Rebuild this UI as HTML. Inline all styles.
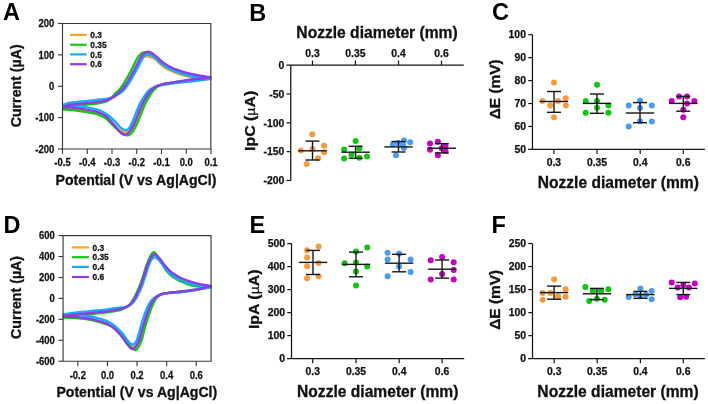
<!DOCTYPE html>
<html><head><meta charset="utf-8"><style>
html,body{margin:0;padding:0;background:#fff;}
body{width:708px;height:404px;overflow:hidden;}
svg{display:block;font-family:"Liberation Sans", sans-serif;will-change:transform;}
.t{stroke:#111;stroke-width:0.25px;}
.h{stroke:#111;stroke-width:0.3px;}
</style></head><body>
<svg width="708" height="404" viewBox="0 0 708 404">
<rect width="708" height="404" fill="#fff"/>
<text x="3.00" y="19.80" font-size="23.5" font-weight="bold" text-anchor="start" fill="#000" >A</text>
<text x="249.20" y="20.80" font-size="23.5" font-weight="bold" text-anchor="start" fill="#000" >B</text>
<text x="492.10" y="20.20" font-size="23.5" font-weight="bold" text-anchor="start" fill="#000" >C</text>
<text x="3.60" y="232.80" font-size="23.5" font-weight="bold" text-anchor="start" fill="#000" >D</text>
<text x="249.50" y="232.90" font-size="23.5" font-weight="bold" text-anchor="start" fill="#000" >E</text>
<text x="491.60" y="232.90" font-size="23.5" font-weight="bold" text-anchor="start" fill="#000" >F</text>
<clipPath id="clip6223"><rect x="62.1" y="23.5" width="149.75" height="125.5"/></clipPath>
<g clip-path="url(#clip6223)" fill="none" stroke-width="2.4" stroke-linejoin="round" stroke-linecap="round">
<path d="M59.00,108.70 C59.58,108.52 61.33,107.98 62.50,107.60 C63.67,107.22 64.75,106.75 66.00,106.40 C67.25,106.05 68.50,105.77 70.00,105.50 C71.50,105.23 72.50,105.08 75.00,104.80 C77.50,104.52 81.67,104.12 85.00,103.80 C88.33,103.48 92.50,103.18 95.00,102.90 C97.50,102.62 98.17,102.43 100.00,102.10 C101.83,101.77 104.28,101.41 106.00,100.93 C107.72,100.44 108.89,99.92 110.33,99.19 C111.78,98.45 113.22,97.52 114.67,96.54 C116.11,95.56 117.62,94.42 119.00,93.30 C120.38,92.18 121.67,91.18 122.94,89.80 C124.20,88.42 125.42,86.63 126.57,85.00 C127.71,83.37 128.79,81.67 129.80,80.00 C130.81,78.33 131.68,76.67 132.62,75.00 C133.56,73.33 134.56,71.67 135.45,70.00 C136.34,68.33 137.15,66.67 137.97,65.00 C138.79,63.33 139.58,61.28 140.39,60.00 C141.21,58.72 141.98,57.94 142.85,57.30 C143.72,56.66 144.53,56.27 145.63,56.19 C146.73,56.10 148.32,56.61 149.44,56.80 C150.56,56.99 151.44,56.93 152.35,57.30 C153.26,57.67 154.05,58.33 154.90,59.00 C155.75,59.67 156.60,60.49 157.45,61.30 C158.30,62.11 159.07,63.02 160.00,63.85 C160.93,64.68 162.00,65.54 163.00,66.28 C164.00,67.02 164.83,67.62 166.00,68.31 C167.17,69.00 168.50,69.70 170.00,70.41 C171.50,71.13 173.33,71.93 175.00,72.60 C176.67,73.26 177.50,73.65 180.00,74.38 C182.50,75.10 186.67,76.20 190.00,76.94 C193.33,77.68 196.58,78.43 200.00,78.80 C203.42,79.17 210.50,79.12 210.50,79.15 C210.50,79.19 203.42,78.86 200.00,79.03 C196.58,79.20 193.33,79.74 190.00,80.16 C186.67,80.59 183.33,81.10 180.00,81.60 C176.67,82.09 172.57,82.73 170.00,83.13 C167.43,83.53 166.17,83.69 164.60,84.00 C163.03,84.31 162.05,84.50 160.60,84.97 C159.15,85.45 157.49,85.85 155.91,86.84 C154.34,87.83 152.75,89.07 151.16,90.91 C149.58,92.75 147.87,95.54 146.43,97.88 C145.00,100.22 143.83,102.16 142.56,104.95 C141.28,107.74 139.92,111.73 138.78,114.63 C137.63,117.52 136.79,119.92 135.68,122.30 C134.56,124.69 133.27,127.35 132.09,128.92 C130.92,130.50 129.89,131.21 128.62,131.78 C127.36,132.35 125.97,132.58 124.50,132.34 C123.03,132.10 121.40,131.45 119.80,130.36 C118.20,129.27 116.55,127.40 114.90,125.81 C113.25,124.22 111.38,122.25 109.90,120.81 C108.42,119.38 107.65,118.34 106.00,117.20 C104.35,116.06 101.83,114.82 100.00,114.00 C98.17,113.18 97.50,112.90 95.00,112.30 C92.50,111.70 88.33,110.95 85.00,110.40 C81.67,109.85 77.50,109.33 75.00,109.00 C72.50,108.67 71.50,108.53 70.00,108.40 C68.50,108.27 67.25,108.23 66.00,108.20 C64.75,108.17 63.67,108.18 62.50,108.20 C61.33,108.22 59.58,108.28 59.00,108.30" stroke="#FFA41C"/>
<path d="M59.00,109.20 C59.58,109.03 61.33,108.54 62.50,108.20 C63.67,107.86 64.75,107.44 66.00,107.14 C67.25,106.84 68.50,106.64 70.00,106.40 C71.50,106.16 72.50,105.98 75.00,105.70 C77.50,105.42 81.67,105.02 85.00,104.70 C88.33,104.38 92.50,104.10 95.00,103.80 C97.50,103.50 98.22,103.28 100.00,102.90 C101.78,102.52 104.18,102.06 105.70,101.50 C107.22,100.94 107.99,100.35 109.10,99.55 C110.21,98.75 111.30,97.74 112.37,96.70 C113.43,95.66 114.34,94.45 115.50,93.30 C116.66,92.15 118.09,91.18 119.31,89.80 C120.53,88.42 121.72,86.63 122.83,85.00 C123.94,83.37 124.98,81.67 125.96,80.00 C126.93,78.33 127.78,76.67 128.69,75.00 C129.61,73.33 130.57,71.67 131.43,70.00 C132.29,68.33 133.07,66.67 133.87,65.00 C134.67,63.33 135.45,61.44 136.22,60.00 C136.99,58.56 137.70,57.43 138.50,56.38 C139.30,55.33 140.03,54.41 141.03,53.72 C142.03,53.02 143.21,52.29 144.50,52.20 C145.79,52.11 147.33,52.63 148.75,53.15 C150.17,53.67 151.71,54.49 153.00,55.30 C154.29,56.11 155.33,57.11 156.50,58.03 C157.67,58.95 158.92,59.92 160.00,60.81 C161.08,61.71 162.00,62.60 163.00,63.40 C164.00,64.20 164.83,64.84 166.00,65.59 C167.17,66.34 168.50,67.14 170.00,67.90 C171.50,68.66 173.33,69.45 175.00,70.13 C176.67,70.80 177.50,71.21 180.00,71.95 C182.50,72.70 186.67,73.84 190.00,74.61 C193.33,75.38 196.58,76.01 200.00,76.56 C203.42,77.11 210.50,77.50 210.50,77.91 C210.50,78.31 203.42,78.63 200.00,78.99 C196.58,79.36 193.33,79.68 190.00,80.09 C186.67,80.51 183.33,81.01 180.00,81.50 C176.67,81.98 172.56,82.61 170.00,83.00 C167.44,83.39 166.12,83.54 164.66,83.85 C163.20,84.15 162.48,84.33 161.23,84.81 C159.97,85.28 158.49,85.70 157.13,86.70 C155.77,87.70 154.52,88.95 153.07,90.80 C151.62,92.65 149.85,95.45 148.43,97.80 C147.02,100.15 145.84,102.10 144.56,104.90 C143.29,107.70 141.93,111.70 140.78,114.60 C139.64,117.50 138.82,119.78 137.69,122.30 C136.56,124.82 135.24,127.71 134.01,129.70 C132.77,131.69 131.59,133.30 130.29,134.22 C128.98,135.14 127.68,135.45 126.18,135.23 C124.69,135.01 123.18,134.20 121.30,132.88 C119.42,131.56 116.80,129.08 114.90,127.31 C113.00,125.54 111.38,123.71 109.90,122.26 C108.42,120.81 107.65,119.75 106.00,118.61 C104.35,117.47 101.83,116.22 100.00,115.40 C98.17,114.58 97.50,114.30 95.00,113.70 C92.50,113.10 88.33,112.35 85.00,111.80 C81.67,111.25 77.50,110.73 75.00,110.40 C72.50,110.07 71.50,109.95 70.00,109.80 C68.50,109.65 67.25,109.58 66.00,109.50 C64.75,109.42 63.67,109.36 62.50,109.33 C61.33,109.29 59.58,109.30 59.00,109.30" stroke="#17C417"/>
<path d="M59.00,106.40 C59.58,106.20 61.33,105.61 62.50,105.17 C63.67,104.74 64.75,104.20 66.00,103.80 C67.25,103.40 68.50,103.08 70.00,102.80 C71.50,102.52 72.50,102.38 75.00,102.10 C77.50,101.82 81.67,101.42 85.00,101.10 C88.33,100.78 92.50,100.46 95.00,100.20 C97.50,99.94 98.17,99.77 100.00,99.55 C101.83,99.33 104.24,99.18 106.00,98.90 C107.76,98.62 109.01,98.37 110.53,97.87 C112.06,97.37 113.59,96.68 115.14,95.90 C116.69,95.12 118.36,94.22 119.83,93.20 C121.30,92.18 122.66,91.17 123.96,89.80 C125.27,88.43 126.48,86.63 127.64,85.00 C128.80,83.37 129.89,81.67 130.91,80.00 C131.93,78.33 132.82,76.67 133.77,75.00 C134.73,73.33 135.73,71.67 136.63,70.00 C137.54,68.33 138.35,66.67 139.19,65.00 C140.02,63.33 140.82,61.45 141.64,60.00 C142.46,58.55 143.32,57.18 144.09,56.30 C144.86,55.42 145.42,54.94 146.25,54.73 C147.08,54.51 148.19,54.86 149.07,55.00 C149.96,55.14 150.66,55.19 151.54,55.59 C152.42,55.99 153.42,56.68 154.36,57.38 C155.30,58.08 156.24,58.94 157.18,59.77 C158.12,60.60 159.03,61.54 160.00,62.39 C160.97,63.23 162.00,64.10 163.00,64.86 C164.00,65.62 164.83,66.23 166.00,66.94 C167.17,67.65 168.50,68.38 170.00,69.11 C171.50,69.85 173.33,70.69 175.00,71.38 C176.67,72.07 177.50,72.48 180.00,73.24 C182.50,74.01 186.67,75.18 190.00,75.97 C193.33,76.76 196.58,77.52 200.00,78.00 C203.42,78.48 210.50,78.46 210.50,78.83 C210.50,79.21 203.42,79.80 200.00,80.26 C196.58,80.72 193.33,81.22 190.00,81.60 C186.67,81.98 183.33,82.21 180.00,82.57 C176.67,82.93 172.58,83.44 170.00,83.77 C167.42,84.09 166.21,84.25 164.54,84.52 C162.87,84.80 161.68,85.00 159.97,85.42 C158.26,85.84 156.21,86.14 154.27,87.04 C152.33,87.95 150.16,89.05 148.33,90.84 C146.50,92.63 144.81,95.46 143.30,97.80 C141.79,100.14 140.62,102.10 139.30,104.90 C137.98,107.70 136.58,111.70 135.40,114.60 C134.22,117.50 133.24,120.04 132.20,122.30 C131.16,124.56 130.08,126.89 129.18,128.15 C128.27,129.41 127.68,129.63 126.75,129.87 C125.82,130.11 124.76,130.09 123.60,129.60 C122.44,129.10 121.25,128.27 119.80,126.90 C118.35,125.53 116.55,123.05 114.90,121.36 C113.25,119.68 111.38,118.06 109.90,116.78 C108.42,115.50 107.65,114.70 106.00,113.67 C104.35,112.65 101.83,111.41 100.00,110.63 C98.17,109.84 97.50,109.54 95.00,108.96 C92.50,108.37 88.33,107.65 85.00,107.11 C81.67,106.58 77.50,106.09 75.00,105.77 C72.50,105.45 71.50,105.26 70.00,105.20 C68.50,105.14 67.25,105.31 66.00,105.40 C64.75,105.49 63.67,105.63 62.50,105.75 C61.33,105.87 59.58,106.04 59.00,106.10" stroke="#1CA9FA"/>
<path d="M59.00,108.20 C59.58,108.02 61.33,107.48 62.50,107.10 C63.67,106.72 64.75,106.25 66.00,105.90 C67.25,105.55 68.50,105.27 70.00,105.00 C71.50,104.73 72.50,104.58 75.00,104.30 C77.50,104.02 81.67,103.62 85.00,103.30 C88.33,102.98 92.50,102.68 95.00,102.40 C97.50,102.12 98.17,101.92 100.00,101.60 C101.83,101.28 104.33,100.95 106.00,100.50 C107.67,100.05 108.67,99.58 110.00,98.90 C111.33,98.22 112.67,97.33 114.00,96.40 C115.33,95.47 116.68,94.40 118.00,93.30 C119.32,92.20 120.65,91.18 121.90,89.80 C123.15,88.42 124.37,86.63 125.50,85.00 C126.63,83.37 127.70,81.67 128.70,80.00 C129.70,78.33 130.57,76.67 131.50,75.00 C132.43,73.33 133.42,71.67 134.30,70.00 C135.18,68.33 135.98,66.67 136.80,65.00 C137.62,63.33 138.40,61.45 139.20,60.00 C140.00,58.55 140.75,57.38 141.60,56.30 C142.45,55.22 143.23,54.25 144.30,53.50 C145.37,52.75 146.88,51.95 148.00,51.80 C149.12,51.65 150.00,52.13 151.00,52.60 C152.00,53.07 153.00,53.83 154.00,54.60 C155.00,55.37 156.00,56.32 157.00,57.20 C158.00,58.08 159.00,59.03 160.00,59.90 C161.00,60.77 162.00,61.63 163.00,62.40 C164.00,63.17 164.83,63.78 166.00,64.50 C167.17,65.22 168.50,65.95 170.00,66.70 C171.50,67.45 173.33,68.30 175.00,69.00 C176.67,69.70 177.50,70.12 180.00,70.90 C182.50,71.68 186.67,72.88 190.00,73.70 C193.33,74.52 196.58,75.20 200.00,75.80 C203.42,76.40 210.50,76.83 210.50,77.30 C210.50,77.77 203.42,78.18 200.00,78.60 C196.58,79.02 193.33,79.35 190.00,79.80 C186.67,80.25 183.33,80.78 180.00,81.30 C176.67,81.82 172.57,82.48 170.00,82.90 C167.43,83.32 166.17,83.48 164.60,83.80 C163.03,84.12 162.08,84.32 160.60,84.80 C159.12,85.28 157.35,85.70 155.70,86.70 C154.05,87.70 152.35,88.95 150.70,90.80 C149.05,92.65 147.28,95.45 145.80,97.80 C144.32,100.15 143.12,102.10 141.80,104.90 C140.48,107.70 139.08,111.70 137.90,114.60 C136.72,117.50 135.87,119.78 134.70,122.30 C133.53,124.82 132.15,127.77 130.90,129.70 C129.65,131.63 128.42,133.10 127.20,133.90 C125.98,134.70 124.83,134.85 123.60,134.50 C122.37,134.15 121.25,133.25 119.80,131.80 C118.35,130.35 116.55,127.72 114.90,125.80 C113.25,123.88 111.38,121.88 109.90,120.30 C108.42,118.72 107.65,117.52 106.00,116.30 C104.35,115.08 101.83,113.83 100.00,113.00 C98.17,112.17 97.50,111.90 95.00,111.30 C92.50,110.70 88.33,109.95 85.00,109.40 C81.67,108.85 77.50,108.33 75.00,108.00 C72.50,107.67 71.50,107.53 70.00,107.40 C68.50,107.27 67.25,107.23 66.00,107.20 C64.75,107.17 63.67,107.18 62.50,107.20 C61.33,107.22 59.58,107.28 59.00,107.30" stroke="#8B3DE8"/>
</g>
<path d="M62.5,22.925 V149.575 M61.925,149.0 H211.42499999999998 M210.85,149.575 V22.925 M211.42499999999998,23.5 H61.925" fill="none" stroke="#383838" stroke-width="1.15"/>
<line x1="57.90" y1="23.50" x2="62.50" y2="23.50" stroke="#383838" stroke-width="1.1" />
<text class="t" transform="translate(54.30,27.20) scale(0.92,1)" font-size="10.3" font-weight="bold" text-anchor="end" fill="#111">200</text>
<line x1="57.90" y1="54.88" x2="62.50" y2="54.88" stroke="#383838" stroke-width="1.1" />
<text class="t" transform="translate(54.30,58.58) scale(0.92,1)" font-size="10.3" font-weight="bold" text-anchor="end" fill="#111">100</text>
<line x1="57.90" y1="86.25" x2="62.50" y2="86.25" stroke="#383838" stroke-width="1.1" />
<text class="t" transform="translate(54.30,89.95) scale(0.92,1)" font-size="10.3" font-weight="bold" text-anchor="end" fill="#111">0</text>
<line x1="57.90" y1="117.62" x2="62.50" y2="117.62" stroke="#383838" stroke-width="1.1" />
<text class="t" transform="translate(54.30,121.32) scale(0.92,1)" font-size="10.3" font-weight="bold" text-anchor="end" fill="#111">-100</text>
<line x1="57.90" y1="149.00" x2="62.50" y2="149.00" stroke="#383838" stroke-width="1.1" />
<text class="t" transform="translate(54.30,152.70) scale(0.92,1)" font-size="10.3" font-weight="bold" text-anchor="end" fill="#111">-200</text>
<line x1="62.50" y1="149.00" x2="62.50" y2="154.00" stroke="#383838" stroke-width="1.1" />
<text class="t" transform="translate(62.50,166.30) scale(0.92,1)" font-size="10.3" font-weight="bold" text-anchor="middle" fill="#111">-0.5</text>
<line x1="87.25" y1="149.00" x2="87.25" y2="154.00" stroke="#383838" stroke-width="1.1" />
<text class="t" transform="translate(87.25,166.30) scale(0.92,1)" font-size="10.3" font-weight="bold" text-anchor="middle" fill="#111">-0.4</text>
<line x1="112.00" y1="149.00" x2="112.00" y2="154.00" stroke="#383838" stroke-width="1.1" />
<text class="t" transform="translate(112.00,166.30) scale(0.92,1)" font-size="10.3" font-weight="bold" text-anchor="middle" fill="#111">-0.3</text>
<line x1="136.75" y1="149.00" x2="136.75" y2="154.00" stroke="#383838" stroke-width="1.1" />
<text class="t" transform="translate(136.75,166.30) scale(0.92,1)" font-size="10.3" font-weight="bold" text-anchor="middle" fill="#111">-0.2</text>
<line x1="161.50" y1="149.00" x2="161.50" y2="154.00" stroke="#383838" stroke-width="1.1" />
<text class="t" transform="translate(161.50,166.30) scale(0.92,1)" font-size="10.3" font-weight="bold" text-anchor="middle" fill="#111">-0.1</text>
<line x1="186.25" y1="149.00" x2="186.25" y2="154.00" stroke="#383838" stroke-width="1.1" />
<text class="t" transform="translate(186.25,166.30) scale(0.92,1)" font-size="10.3" font-weight="bold" text-anchor="middle" fill="#111">0.0</text>
<line x1="211.00" y1="149.00" x2="211.00" y2="154.00" stroke="#383838" stroke-width="1.1" />
<text class="t" transform="translate(211.00,166.30) scale(0.92,1)" font-size="10.3" font-weight="bold" text-anchor="middle" fill="#111">0.1</text>
<line x1="70.10" y1="34.90" x2="86.70" y2="34.90" stroke="#FFA41C" stroke-width="2.2" />
<text class="t" transform="translate(90.30,38.00) scale(0.95,1)" font-size="8.8" font-weight="bold" text-anchor="start" fill="#111">0.3</text>
<line x1="70.10" y1="44.70" x2="86.70" y2="44.70" stroke="#17C417" stroke-width="2.2" />
<text class="t" transform="translate(90.30,47.80) scale(0.95,1)" font-size="8.8" font-weight="bold" text-anchor="start" fill="#111">0.35</text>
<line x1="70.10" y1="54.40" x2="86.70" y2="54.40" stroke="#1CA9FA" stroke-width="2.2" />
<text class="t" transform="translate(90.30,57.50) scale(0.95,1)" font-size="8.8" font-weight="bold" text-anchor="start" fill="#111">0.5</text>
<line x1="70.10" y1="64.20" x2="86.70" y2="64.20" stroke="#8B3DE8" stroke-width="2.2" />
<text class="t" transform="translate(90.30,67.30) scale(0.95,1)" font-size="8.8" font-weight="bold" text-anchor="start" fill="#111">0.6</text>
<text class="h" x="136.00" y="184.70" font-size="14.1" font-weight="bold" text-anchor="middle" fill="#111" >Potential (V vs Ag|AgCl)</text>
<text class="h" transform="translate(21.3,85.8) rotate(-90)" font-size="14.2" font-weight="bold" text-anchor="middle" fill="#111">Current (µA)</text>
<clipPath id="clip63235"><rect x="62.65" y="235.6" width="149.4" height="125.6"/></clipPath>
<g clip-path="url(#clip63235)" fill="none" stroke-width="2.4" stroke-linejoin="round" stroke-linecap="round">
<path d="M60.00,317.50 C60.33,317.43 60.22,317.40 62.00,317.10 C63.78,316.80 67.82,316.12 70.70,315.70 C73.58,315.28 76.42,314.92 79.30,314.60 C82.18,314.28 85.10,314.08 88.00,313.80 C90.90,313.52 93.82,313.18 96.70,312.90 C99.58,312.62 103.08,312.35 105.30,312.10 C107.52,311.85 108.55,311.63 110.00,311.40 C111.45,311.17 112.18,311.04 114.00,310.70 C115.82,310.36 118.91,309.89 120.90,309.34 C122.89,308.80 124.25,308.36 125.95,307.43 C127.64,306.51 129.53,305.32 131.09,303.80 C132.65,302.28 133.99,300.45 135.29,298.30 C136.59,296.15 137.81,293.28 138.90,290.90 C139.99,288.52 140.87,286.48 141.80,284.00 C142.73,281.52 143.50,279.08 144.50,276.00 C145.50,272.92 146.71,268.38 147.80,265.50 C148.89,262.62 149.97,260.28 151.06,258.69 C152.15,257.11 153.41,256.26 154.34,256.01 C155.28,255.76 155.76,256.38 156.69,257.19 C157.61,258.00 158.53,259.15 159.90,260.87 C161.27,262.60 163.25,265.54 164.90,267.54 C166.55,269.54 168.15,271.35 169.80,272.88 C171.45,274.41 173.15,275.59 174.80,276.72 C176.45,277.85 177.72,278.69 179.70,279.66 C181.68,280.62 184.60,281.78 186.70,282.50 C188.80,283.21 190.45,283.52 192.30,283.95 C194.15,284.38 195.95,284.75 197.80,285.05 C199.65,285.36 201.20,285.53 203.40,285.79 C205.60,286.05 211.00,286.16 211.00,286.60 C211.00,287.04 205.60,287.96 203.40,288.44 C201.20,288.92 199.65,289.17 197.80,289.49 C195.95,289.81 194.15,290.08 192.30,290.35 C190.45,290.61 188.57,290.87 186.70,291.10 C184.83,291.34 182.95,291.55 181.10,291.75 C179.25,291.96 177.42,292.16 175.60,292.31 C173.78,292.46 172.43,292.38 170.20,292.67 C167.97,292.95 164.35,293.37 162.20,294.00 C160.05,294.63 158.71,295.45 157.30,296.46 C155.89,297.46 154.82,298.44 153.71,300.03 C152.61,301.62 151.73,303.57 150.68,306.00 C149.62,308.44 148.52,311.28 147.36,314.63 C146.21,317.99 144.93,322.27 143.77,326.15 C142.61,330.03 141.51,334.91 140.41,337.92 C139.31,340.93 138.29,342.74 137.16,344.20 C136.02,345.66 134.73,346.48 133.60,346.70 C132.47,346.92 131.54,346.34 130.38,345.50 C129.21,344.66 127.86,343.12 126.61,341.65 C125.37,340.19 124.09,338.16 122.90,336.71 C121.71,335.26 120.58,334.07 119.50,332.97 C118.42,331.88 117.48,331.06 116.40,330.14 C115.32,329.22 114.07,328.19 113.00,327.45 C111.93,326.71 111.28,326.36 110.00,325.70 C108.72,325.04 107.52,324.30 105.30,323.50 C103.08,322.70 99.58,321.65 96.70,320.90 C93.82,320.15 90.90,319.50 88.00,319.00 C85.10,318.50 82.18,318.18 79.30,317.90 C76.42,317.62 73.58,317.43 70.70,317.30 C67.82,317.17 63.78,317.13 62.00,317.10 C60.22,317.07 60.33,317.10 60.00,317.10" stroke="#FFA41C"/>
<path d="M60.00,318.00 C60.33,317.93 60.22,317.90 62.00,317.60 C63.78,317.30 67.82,316.62 70.70,316.20 C73.58,315.78 76.42,315.42 79.30,315.10 C82.18,314.78 85.10,314.58 88.00,314.30 C90.90,314.02 93.82,313.68 96.70,313.40 C99.58,313.12 103.08,312.85 105.30,312.60 C107.52,312.35 108.55,312.13 110.00,311.90 C111.45,311.67 112.18,311.55 114.00,311.20 C115.82,310.85 118.93,310.39 120.90,309.79 C122.87,309.18 124.26,308.56 125.80,307.56 C127.34,306.56 128.80,305.34 130.15,303.80 C131.50,302.26 132.67,300.45 133.90,298.30 C135.13,296.15 136.42,293.28 137.50,290.90 C138.58,288.52 139.47,286.48 140.40,284.00 C141.33,281.52 142.10,279.08 143.10,276.00 C144.10,272.92 145.26,268.66 146.40,265.50 C147.54,262.34 148.70,259.25 149.92,257.05 C151.13,254.84 152.63,252.65 153.71,252.25 C154.78,251.86 155.34,253.41 156.37,254.65 C157.40,255.89 158.47,257.40 159.89,259.71 C161.31,262.02 163.25,266.09 164.90,268.52 C166.55,270.95 168.15,272.70 169.80,274.29 C171.45,275.88 173.15,276.96 174.80,278.07 C176.45,279.18 177.72,279.99 179.70,280.95 C181.68,281.91 184.60,283.05 186.70,283.83 C188.80,284.60 190.45,285.16 192.30,285.61 C194.15,286.06 195.95,286.38 197.80,286.55 C199.65,286.72 201.20,286.64 203.40,286.65 C205.60,286.66 211.00,286.32 211.00,286.60 C211.00,286.88 205.60,287.87 203.40,288.34 C201.20,288.81 199.65,289.08 197.80,289.40 C195.95,289.72 194.15,289.98 192.30,290.25 C190.45,290.52 188.57,290.77 186.70,291.01 C184.83,291.24 182.95,291.46 181.10,291.67 C179.25,291.87 177.42,292.07 175.60,292.22 C173.78,292.37 172.37,292.30 170.20,292.58 C168.03,292.86 164.58,293.28 162.58,293.92 C160.58,294.55 159.46,295.39 158.21,296.40 C156.95,297.41 156.05,298.40 155.06,300.00 C154.07,301.60 153.30,303.53 152.25,306.00 C151.21,308.47 149.98,311.38 148.82,314.80 C147.65,318.22 146.37,322.54 145.25,326.50 C144.12,330.46 143.11,335.28 142.06,338.54 C141.02,341.81 140.05,344.19 138.98,346.10 C137.90,348.01 136.69,349.63 135.60,350.00 C134.51,350.37 133.59,349.34 132.46,348.32 C131.32,347.31 130.03,345.57 128.79,343.92 C127.56,342.26 126.25,340.04 125.02,338.41 C123.80,336.77 122.60,335.40 121.46,334.11 C120.33,332.81 119.44,331.70 118.22,330.62 C117.00,329.54 115.42,328.45 114.12,327.62 C112.83,326.79 111.92,326.28 110.45,325.64 C108.98,325.00 107.59,324.51 105.30,323.78 C103.01,323.04 99.58,321.97 96.70,321.24 C93.82,320.50 90.90,319.86 88.00,319.38 C85.10,318.89 82.18,318.58 79.30,318.31 C76.42,318.04 73.58,317.87 70.70,317.75 C67.82,317.63 63.78,317.62 62.00,317.59 C60.22,317.57 60.33,317.60 60.00,317.60" stroke="#17C417"/>
<path d="M60.00,315.00 C60.33,314.93 60.22,314.90 62.00,314.60 C63.78,314.31 67.82,313.63 70.70,313.22 C73.58,312.81 76.42,312.44 79.30,312.13 C82.18,311.82 85.10,311.63 88.00,311.35 C90.90,311.07 93.82,310.74 96.70,310.46 C99.58,310.18 103.08,309.92 105.30,309.68 C107.52,309.43 108.55,309.22 110.00,308.99 C111.45,308.76 112.18,308.53 114.00,308.29 C115.82,308.05 118.89,307.78 120.90,307.55 C122.91,307.32 124.24,307.53 126.06,306.90 C127.88,306.28 130.12,305.23 131.82,303.80 C133.51,302.37 134.87,300.45 136.20,298.30 C137.53,296.15 138.72,293.28 139.80,290.90 C140.88,288.52 141.77,286.48 142.70,284.00 C143.63,281.52 144.40,279.08 145.40,276.00 C146.40,272.92 147.67,268.28 148.70,265.50 C149.74,262.72 150.63,260.65 151.61,259.30 C152.59,257.95 153.71,257.58 154.59,257.39 C155.47,257.20 156.00,257.51 156.88,258.16 C157.77,258.81 158.57,259.67 159.91,261.29 C161.24,262.91 163.25,265.89 164.90,267.86 C166.55,269.83 168.15,271.62 169.80,273.12 C171.45,274.63 173.15,275.78 174.80,276.88 C176.45,277.99 177.72,278.80 179.70,279.74 C181.68,280.68 184.60,281.81 186.70,282.53 C188.80,283.26 190.45,283.65 192.30,284.12 C194.15,284.59 195.95,285.00 197.80,285.35 C199.65,285.70 201.20,285.90 203.40,286.21 C205.60,286.52 211.00,286.80 211.00,287.20 C211.00,287.60 205.60,288.20 203.40,288.62 C201.20,289.05 199.65,289.40 197.80,289.74 C195.95,290.08 194.15,290.37 192.30,290.66 C190.45,290.95 188.57,291.22 186.70,291.48 C184.83,291.73 182.95,291.99 181.10,292.20 C179.25,292.40 177.42,292.58 175.60,292.71 C173.78,292.85 172.51,292.75 170.20,293.00 C167.89,293.26 164.07,293.64 161.72,294.24 C159.38,294.85 157.83,295.66 156.12,296.66 C154.42,297.65 152.88,298.62 151.50,300.20 C150.12,301.78 149.05,303.70 147.86,306.15 C146.68,308.60 145.56,311.49 144.39,314.89 C143.22,318.29 141.95,322.70 140.82,326.53 C139.70,330.36 138.59,335.06 137.64,337.85 C136.69,340.64 135.87,342.18 135.10,343.29 C134.33,344.40 133.85,344.52 133.00,344.50 C132.15,344.48 131.08,344.06 130.00,343.17 C128.92,342.28 127.68,340.67 126.50,339.16 C125.32,337.65 124.07,335.58 122.90,334.11 C121.73,332.64 120.58,331.47 119.50,330.35 C118.42,329.22 117.48,328.35 116.40,327.36 C115.32,326.37 114.07,325.24 113.00,324.42 C111.93,323.61 111.28,323.12 110.00,322.45 C108.72,321.78 107.52,321.18 105.30,320.42 C103.08,319.65 99.58,318.60 96.70,317.87 C93.82,317.14 90.90,316.51 88.00,316.02 C85.10,315.54 82.18,315.24 79.30,314.98 C76.42,314.71 73.58,314.55 70.70,314.43 C67.82,314.32 63.78,314.31 62.00,314.29 C60.22,314.27 60.33,314.30 60.00,314.30" stroke="#1CA9FA"/>
<path d="M60.00,317.00 C60.33,316.93 60.22,316.90 62.00,316.60 C63.78,316.30 67.82,315.62 70.70,315.20 C73.58,314.78 76.42,314.42 79.30,314.10 C82.18,313.78 85.10,313.58 88.00,313.30 C90.90,313.02 93.82,312.68 96.70,312.40 C99.58,312.12 103.08,311.85 105.30,311.60 C107.52,311.35 108.55,311.13 110.00,310.90 C111.45,310.67 112.18,310.53 114.00,310.20 C115.82,309.87 118.92,309.38 120.90,308.90 C122.88,308.42 124.25,308.15 125.90,307.30 C127.55,306.45 129.32,305.30 130.80,303.80 C132.28,302.30 133.53,300.45 134.80,298.30 C136.07,296.15 137.32,293.28 138.40,290.90 C139.48,288.52 140.37,286.48 141.30,284.00 C142.23,281.52 143.00,279.08 144.00,276.00 C145.00,272.92 146.20,268.50 147.30,265.50 C148.40,262.50 149.47,259.85 150.60,258.00 C151.73,256.15 153.10,254.83 154.10,254.40 C155.10,253.97 155.63,254.67 156.60,255.42 C157.57,256.17 158.52,257.20 159.90,258.88 C161.28,260.56 163.25,263.51 164.90,265.50 C166.55,267.49 168.15,269.28 169.80,270.80 C171.45,272.32 173.15,273.48 174.80,274.60 C176.45,275.72 177.72,276.53 179.70,277.50 C181.68,278.47 184.60,279.62 186.70,280.40 C188.80,281.18 190.45,281.66 192.30,282.20 C194.15,282.74 195.95,283.22 197.80,283.64 C199.65,284.06 201.20,284.33 203.40,284.72 C205.60,285.11 211.00,285.45 211.00,286.00 C211.00,286.55 205.60,287.48 203.40,288.00 C201.20,288.52 199.65,288.77 197.80,289.10 C195.95,289.43 194.15,289.72 192.30,290.00 C190.45,290.28 188.57,290.55 186.70,290.80 C184.83,291.05 182.95,291.28 181.10,291.50 C179.25,291.72 177.42,291.93 175.60,292.10 C173.78,292.27 172.43,292.20 170.20,292.50 C167.97,292.80 164.35,293.25 162.20,293.90 C160.05,294.55 158.73,295.38 157.30,296.40 C155.87,297.42 154.77,298.40 153.60,300.00 C152.43,301.60 151.45,303.53 150.30,306.00 C149.15,308.47 147.92,311.38 146.70,314.80 C145.48,318.22 144.17,322.55 143.00,326.50 C141.83,330.45 140.78,335.32 139.70,338.50 C138.62,341.68 137.62,343.85 136.50,345.60 C135.38,347.35 134.08,348.68 133.00,349.00 C131.92,349.32 131.08,348.45 130.00,347.50 C128.92,346.55 127.68,344.88 126.50,343.30 C125.32,341.72 124.07,339.57 122.90,338.00 C121.73,336.43 120.58,335.13 119.50,333.90 C118.42,332.67 117.48,331.68 116.40,330.60 C115.32,329.52 114.07,328.30 113.00,327.40 C111.93,326.50 111.28,325.93 110.00,325.20 C108.72,324.47 107.52,323.80 105.30,323.00 C103.08,322.20 99.58,321.15 96.70,320.40 C93.82,319.65 90.90,319.00 88.00,318.50 C85.10,318.00 82.18,317.68 79.30,317.40 C76.42,317.12 73.58,316.93 70.70,316.80 C67.82,316.67 63.78,316.63 62.00,316.60 C60.22,316.57 60.33,316.60 60.00,316.60" stroke="#8B3DE8"/>
</g>
<path d="M63.05,235.025 V361.775 M62.474999999999994,361.2 H211.625 M211.05,361.775 V235.025 M211.625,235.6 H62.474999999999994" fill="none" stroke="#383838" stroke-width="1.15"/>
<line x1="58.45" y1="235.60" x2="63.05" y2="235.60" stroke="#383838" stroke-width="1.1" />
<text class="t" transform="translate(54.85,239.30) scale(0.92,1)" font-size="10.3" font-weight="bold" text-anchor="end" fill="#111">600</text>
<line x1="58.45" y1="256.53" x2="63.05" y2="256.53" stroke="#383838" stroke-width="1.1" />
<text class="t" transform="translate(54.85,260.23) scale(0.92,1)" font-size="10.3" font-weight="bold" text-anchor="end" fill="#111">400</text>
<line x1="58.45" y1="277.47" x2="63.05" y2="277.47" stroke="#383838" stroke-width="1.1" />
<text class="t" transform="translate(54.85,281.17) scale(0.92,1)" font-size="10.3" font-weight="bold" text-anchor="end" fill="#111">200</text>
<line x1="58.45" y1="298.40" x2="63.05" y2="298.40" stroke="#383838" stroke-width="1.1" />
<text class="t" transform="translate(54.85,302.10) scale(0.92,1)" font-size="10.3" font-weight="bold" text-anchor="end" fill="#111">0</text>
<line x1="58.45" y1="319.33" x2="63.05" y2="319.33" stroke="#383838" stroke-width="1.1" />
<text class="t" transform="translate(54.85,323.03) scale(0.92,1)" font-size="10.3" font-weight="bold" text-anchor="end" fill="#111">-200</text>
<line x1="58.45" y1="340.27" x2="63.05" y2="340.27" stroke="#383838" stroke-width="1.1" />
<text class="t" transform="translate(54.85,343.97) scale(0.92,1)" font-size="10.3" font-weight="bold" text-anchor="end" fill="#111">-400</text>
<line x1="58.45" y1="361.20" x2="63.05" y2="361.20" stroke="#383838" stroke-width="1.1" />
<text class="t" transform="translate(54.85,364.90) scale(0.92,1)" font-size="10.3" font-weight="bold" text-anchor="end" fill="#111">-600</text>
<line x1="77.85" y1="361.20" x2="77.85" y2="366.20" stroke="#383838" stroke-width="1.1" />
<text class="t" transform="translate(77.85,378.70) scale(0.92,1)" font-size="10.3" font-weight="bold" text-anchor="middle" fill="#111">-0.2</text>
<line x1="107.45" y1="361.20" x2="107.45" y2="366.20" stroke="#383838" stroke-width="1.1" />
<text class="t" transform="translate(107.45,378.70) scale(0.92,1)" font-size="10.3" font-weight="bold" text-anchor="middle" fill="#111">0.0</text>
<line x1="137.05" y1="361.20" x2="137.05" y2="366.20" stroke="#383838" stroke-width="1.1" />
<text class="t" transform="translate(137.05,378.70) scale(0.92,1)" font-size="10.3" font-weight="bold" text-anchor="middle" fill="#111">0.2</text>
<line x1="166.65" y1="361.20" x2="166.65" y2="366.20" stroke="#383838" stroke-width="1.1" />
<text class="t" transform="translate(166.65,378.70) scale(0.92,1)" font-size="10.3" font-weight="bold" text-anchor="middle" fill="#111">0.4</text>
<line x1="196.25" y1="361.20" x2="196.25" y2="366.20" stroke="#383838" stroke-width="1.1" />
<text class="t" transform="translate(196.25,378.70) scale(0.92,1)" font-size="10.3" font-weight="bold" text-anchor="middle" fill="#111">0.6</text>
<line x1="72.00" y1="247.40" x2="88.90" y2="247.40" stroke="#FFA41C" stroke-width="2.2" />
<text class="t" transform="translate(92.50,250.50) scale(0.95,1)" font-size="8.8" font-weight="bold" text-anchor="start" fill="#111">0.3</text>
<line x1="72.00" y1="257.20" x2="88.90" y2="257.20" stroke="#17C417" stroke-width="2.2" />
<text class="t" transform="translate(92.50,260.30) scale(0.95,1)" font-size="8.8" font-weight="bold" text-anchor="start" fill="#111">0.35</text>
<line x1="72.00" y1="266.90" x2="88.90" y2="266.90" stroke="#1CA9FA" stroke-width="2.2" />
<text class="t" transform="translate(92.50,270.00) scale(0.95,1)" font-size="8.8" font-weight="bold" text-anchor="start" fill="#111">0.4</text>
<line x1="72.00" y1="277.00" x2="88.90" y2="277.00" stroke="#8B3DE8" stroke-width="2.2" />
<text class="t" transform="translate(92.50,280.10) scale(0.95,1)" font-size="8.8" font-weight="bold" text-anchor="start" fill="#111">0.6</text>
<text class="h" x="136.80" y="397.30" font-size="14.1" font-weight="bold" text-anchor="middle" fill="#111" >Potential (V vs Ag|AgCl)</text>
<text class="h" transform="translate(21.3,297.5) rotate(-90)" font-size="14.2" font-weight="bold" text-anchor="middle" fill="#111">Current (µA)</text>
<line x1="290.75" y1="65.10" x2="290.75" y2="180.50" stroke="#141414" stroke-width="1.25" />
<line x1="286.35" y1="65.10" x2="463.80" y2="65.10" stroke="#141414" stroke-width="1.25" />
<text class="t" x="284.25" y="68.80" font-size="10.4" font-weight="bold" text-anchor="end" fill="#111" >0</text>
<line x1="286.55" y1="93.95" x2="290.75" y2="93.95" stroke="#141414" stroke-width="1.2" />
<text class="t" x="284.25" y="97.65" font-size="10.4" font-weight="bold" text-anchor="end" fill="#111" >-50</text>
<line x1="286.55" y1="122.80" x2="290.75" y2="122.80" stroke="#141414" stroke-width="1.2" />
<text class="t" x="284.25" y="126.50" font-size="10.4" font-weight="bold" text-anchor="end" fill="#111" >-100</text>
<line x1="286.55" y1="151.65" x2="290.75" y2="151.65" stroke="#141414" stroke-width="1.2" />
<text class="t" x="284.25" y="155.35" font-size="10.4" font-weight="bold" text-anchor="end" fill="#111" >-150</text>
<line x1="286.55" y1="180.50" x2="290.75" y2="180.50" stroke="#141414" stroke-width="1.2" />
<text class="t" x="284.25" y="184.20" font-size="10.4" font-weight="bold" text-anchor="end" fill="#111" >-200</text>
<line x1="312.50" y1="60.50" x2="312.50" y2="65.10" stroke="#141414" stroke-width="1.2" />
<text class="t" x="312.50" y="56.80" font-size="10.4" font-weight="bold" text-anchor="middle" fill="#111" >0.3</text>
<line x1="355.40" y1="60.50" x2="355.40" y2="65.10" stroke="#141414" stroke-width="1.2" />
<text class="t" x="355.40" y="56.80" font-size="10.4" font-weight="bold" text-anchor="middle" fill="#111" >0.35</text>
<line x1="398.50" y1="60.50" x2="398.50" y2="65.10" stroke="#141414" stroke-width="1.2" />
<text class="t" x="398.50" y="56.80" font-size="10.4" font-weight="bold" text-anchor="middle" fill="#111" >0.4</text>
<line x1="441.50" y1="60.50" x2="441.50" y2="65.10" stroke="#141414" stroke-width="1.2" />
<text class="t" x="441.50" y="56.80" font-size="10.4" font-weight="bold" text-anchor="middle" fill="#111" >0.6</text>
<text class="h" transform="translate(377.00,37.50) scale(0.976,1)" font-size="16.0" font-weight="bold" text-anchor="middle" fill="#111">Nozzle diameter (mm)</text>
<text class="h" transform="translate(254.9,120.9) rotate(-90) scale(1.075,1)" font-size="14.8" font-weight="bold" text-anchor="middle" fill="#111">IpC (<tspan font-weight="normal" font-size="13">µ</tspan>A)</text>
<circle cx="312.30" cy="134.30" r="3.0" fill="#F89A3C"/>
<circle cx="300.90" cy="150.40" r="3.0" fill="#F89A3C"/>
<circle cx="312.50" cy="149.10" r="3.0" fill="#F89A3C"/>
<circle cx="324.10" cy="145.80" r="3.0" fill="#F89A3C"/>
<circle cx="324.10" cy="152.20" r="3.0" fill="#F89A3C"/>
<circle cx="318.20" cy="158.20" r="3.0" fill="#F89A3C"/>
<circle cx="306.70" cy="164.00" r="3.0" fill="#F89A3C"/>
<line x1="298.30" y1="150.80" x2="326.70" y2="150.80" stroke="#161616" stroke-width="1.4" />
<line x1="305.50" y1="141.10" x2="319.50" y2="141.10" stroke="#161616" stroke-width="1.4" />
<line x1="305.50" y1="160.00" x2="319.50" y2="160.00" stroke="#161616" stroke-width="1.4" />
<line x1="312.50" y1="141.10" x2="312.50" y2="160.00" stroke="#161616" stroke-width="1.4" />
<circle cx="355.60" cy="140.90" r="3.0" fill="#0EC60E"/>
<circle cx="344.10" cy="149.50" r="3.0" fill="#0EC60E"/>
<circle cx="359.30" cy="148.50" r="3.0" fill="#0EC60E"/>
<circle cx="351.50" cy="154.50" r="3.0" fill="#0EC60E"/>
<circle cx="344.10" cy="158.40" r="3.0" fill="#0EC60E"/>
<circle cx="359.30" cy="157.80" r="3.0" fill="#0EC60E"/>
<circle cx="367.00" cy="156.60" r="3.0" fill="#0EC60E"/>
<line x1="341.40" y1="152.20" x2="369.80" y2="152.20" stroke="#161616" stroke-width="1.4" />
<line x1="348.60" y1="146.30" x2="362.60" y2="146.30" stroke="#161616" stroke-width="1.4" />
<line x1="348.60" y1="158.20" x2="362.60" y2="158.20" stroke="#161616" stroke-width="1.4" />
<line x1="355.60" y1="146.30" x2="355.60" y2="158.20" stroke="#161616" stroke-width="1.4" />
<circle cx="392.90" cy="144.20" r="3.0" fill="#4A9AF6"/>
<circle cx="398.00" cy="143.00" r="3.0" fill="#4A9AF6"/>
<circle cx="404.00" cy="140.50" r="3.0" fill="#4A9AF6"/>
<circle cx="410.20" cy="142.30" r="3.0" fill="#4A9AF6"/>
<circle cx="402.80" cy="144.80" r="3.0" fill="#4A9AF6"/>
<circle cx="404.00" cy="147.90" r="3.0" fill="#4A9AF6"/>
<circle cx="396.00" cy="155.30" r="3.0" fill="#4A9AF6"/>
<line x1="384.30" y1="146.90" x2="412.70" y2="146.90" stroke="#161616" stroke-width="1.4" />
<line x1="391.50" y1="141.50" x2="405.50" y2="141.50" stroke="#161616" stroke-width="1.4" />
<line x1="391.50" y1="152.00" x2="405.50" y2="152.00" stroke="#161616" stroke-width="1.4" />
<line x1="398.50" y1="141.50" x2="398.50" y2="152.00" stroke="#161616" stroke-width="1.4" />
<circle cx="430.00" cy="143.60" r="3.0" fill="#C400C4"/>
<circle cx="437.90" cy="141.70" r="3.0" fill="#C400C4"/>
<circle cx="430.00" cy="149.80" r="3.0" fill="#C400C4"/>
<circle cx="437.90" cy="155.30" r="3.0" fill="#C400C4"/>
<circle cx="445.50" cy="146.00" r="3.0" fill="#C400C4"/>
<circle cx="445.50" cy="151.00" r="3.0" fill="#C400C4"/>
<circle cx="441.80" cy="148.20" r="3.0" fill="#C400C4"/>
<line x1="427.60" y1="148.20" x2="456.00" y2="148.20" stroke="#161616" stroke-width="1.4" />
<line x1="434.80" y1="143.60" x2="448.80" y2="143.60" stroke="#161616" stroke-width="1.4" />
<line x1="434.80" y1="152.90" x2="448.80" y2="152.90" stroke="#161616" stroke-width="1.4" />
<line x1="441.80" y1="143.60" x2="441.80" y2="152.90" stroke="#161616" stroke-width="1.4" />
<line x1="532.45" y1="34.70" x2="532.45" y2="149.40" stroke="#141414" stroke-width="1.25" />
<line x1="528.05" y1="149.40" x2="704.90" y2="149.40" stroke="#141414" stroke-width="1.25" />
<line x1="528.25" y1="34.70" x2="532.45" y2="34.70" stroke="#141414" stroke-width="1.2" />
<text class="t" x="525.95" y="38.40" font-size="10.4" font-weight="bold" text-anchor="end" fill="#111" >100</text>
<line x1="528.25" y1="57.64" x2="532.45" y2="57.64" stroke="#141414" stroke-width="1.2" />
<text class="t" x="525.95" y="61.34" font-size="10.4" font-weight="bold" text-anchor="end" fill="#111" >90</text>
<line x1="528.25" y1="80.58" x2="532.45" y2="80.58" stroke="#141414" stroke-width="1.2" />
<text class="t" x="525.95" y="84.28" font-size="10.4" font-weight="bold" text-anchor="end" fill="#111" >80</text>
<line x1="528.25" y1="103.52" x2="532.45" y2="103.52" stroke="#141414" stroke-width="1.2" />
<text class="t" x="525.95" y="107.22" font-size="10.4" font-weight="bold" text-anchor="end" fill="#111" >70</text>
<line x1="528.25" y1="126.46" x2="532.45" y2="126.46" stroke="#141414" stroke-width="1.2" />
<text class="t" x="525.95" y="130.16" font-size="10.4" font-weight="bold" text-anchor="end" fill="#111" >60</text>
<text class="t" x="525.95" y="153.10" font-size="10.4" font-weight="bold" text-anchor="end" fill="#111" >50</text>
<line x1="553.90" y1="149.40" x2="553.90" y2="154.00" stroke="#141414" stroke-width="1.2" />
<text class="t" x="553.90" y="165.50" font-size="10.4" font-weight="bold" text-anchor="middle" fill="#111" >0.3</text>
<line x1="597.00" y1="149.40" x2="597.00" y2="154.00" stroke="#141414" stroke-width="1.2" />
<text class="t" x="597.00" y="165.50" font-size="10.4" font-weight="bold" text-anchor="middle" fill="#111" >0.35</text>
<line x1="640.20" y1="149.40" x2="640.20" y2="154.00" stroke="#141414" stroke-width="1.2" />
<text class="t" x="640.20" y="165.50" font-size="10.4" font-weight="bold" text-anchor="middle" fill="#111" >0.4</text>
<line x1="683.30" y1="149.40" x2="683.30" y2="154.00" stroke="#141414" stroke-width="1.2" />
<text class="t" x="683.30" y="165.50" font-size="10.4" font-weight="bold" text-anchor="middle" fill="#111" >0.6</text>
<text class="h" transform="translate(618.30,187.60) scale(0.976,1)" font-size="16.0" font-weight="bold" text-anchor="middle" fill="#111">Nozzle diameter (mm)</text>
<text class="h" transform="translate(500.4,89.3) rotate(-90) scale(1.042,1)" font-size="14.8" font-weight="bold" text-anchor="middle" fill="#111">ΔE (mV)</text>
<circle cx="554.00" cy="82.60" r="3.0" fill="#F89A3C"/>
<circle cx="542.40" cy="100.90" r="3.0" fill="#F89A3C"/>
<circle cx="558.00" cy="100.90" r="3.0" fill="#F89A3C"/>
<circle cx="565.80" cy="98.20" r="3.0" fill="#F89A3C"/>
<circle cx="565.80" cy="105.60" r="3.0" fill="#F89A3C"/>
<circle cx="550.10" cy="105.60" r="3.0" fill="#F89A3C"/>
<circle cx="554.00" cy="117.20" r="3.0" fill="#F89A3C"/>
<line x1="539.80" y1="101.50" x2="568.20" y2="101.50" stroke="#161616" stroke-width="1.4" />
<line x1="547.00" y1="91.50" x2="561.00" y2="91.50" stroke="#161616" stroke-width="1.4" />
<line x1="547.00" y1="112.30" x2="561.00" y2="112.30" stroke="#161616" stroke-width="1.4" />
<line x1="554.00" y1="91.50" x2="554.00" y2="112.30" stroke="#161616" stroke-width="1.4" />
<circle cx="597.00" cy="84.80" r="3.0" fill="#0EC60E"/>
<circle cx="585.70" cy="100.90" r="3.0" fill="#0EC60E"/>
<circle cx="597.00" cy="100.90" r="3.0" fill="#0EC60E"/>
<circle cx="608.40" cy="105.60" r="3.0" fill="#0EC60E"/>
<circle cx="597.00" cy="107.80" r="3.0" fill="#0EC60E"/>
<circle cx="585.70" cy="112.70" r="3.0" fill="#0EC60E"/>
<circle cx="608.40" cy="112.70" r="3.0" fill="#0EC60E"/>
<line x1="582.80" y1="103.40" x2="611.20" y2="103.40" stroke="#161616" stroke-width="1.4" />
<line x1="590.00" y1="94.00" x2="604.00" y2="94.00" stroke="#161616" stroke-width="1.4" />
<line x1="590.00" y1="113.30" x2="604.00" y2="113.30" stroke="#161616" stroke-width="1.4" />
<line x1="597.00" y1="94.00" x2="597.00" y2="113.30" stroke="#161616" stroke-width="1.4" />
<circle cx="640.00" cy="100.40" r="3.0" fill="#4A9AF6"/>
<circle cx="628.70" cy="105.60" r="3.0" fill="#4A9AF6"/>
<circle cx="651.80" cy="105.60" r="3.0" fill="#4A9AF6"/>
<circle cx="640.00" cy="107.80" r="3.0" fill="#4A9AF6"/>
<circle cx="640.00" cy="121.20" r="3.0" fill="#4A9AF6"/>
<circle cx="651.80" cy="121.60" r="3.0" fill="#4A9AF6"/>
<circle cx="628.70" cy="126.40" r="3.0" fill="#4A9AF6"/>
<line x1="625.80" y1="113.00" x2="654.20" y2="113.00" stroke="#161616" stroke-width="1.4" />
<line x1="633.00" y1="102.60" x2="647.00" y2="102.60" stroke="#161616" stroke-width="1.4" />
<line x1="633.00" y1="122.70" x2="647.00" y2="122.70" stroke="#161616" stroke-width="1.4" />
<line x1="640.00" y1="102.60" x2="640.00" y2="122.70" stroke="#161616" stroke-width="1.4" />
<circle cx="679.10" cy="96.40" r="3.0" fill="#C400C4"/>
<circle cx="687.00" cy="96.40" r="3.0" fill="#C400C4"/>
<circle cx="671.70" cy="100.90" r="3.0" fill="#C400C4"/>
<circle cx="694.40" cy="100.90" r="3.0" fill="#C400C4"/>
<circle cx="687.00" cy="103.40" r="3.0" fill="#C400C4"/>
<circle cx="683.30" cy="109.80" r="3.0" fill="#C400C4"/>
<circle cx="683.30" cy="117.20" r="3.0" fill="#C400C4"/>
<line x1="669.10" y1="103.40" x2="697.50" y2="103.40" stroke="#161616" stroke-width="1.4" />
<line x1="676.30" y1="96.40" x2="690.30" y2="96.40" stroke="#161616" stroke-width="1.4" />
<line x1="676.30" y1="111.20" x2="690.30" y2="111.20" stroke="#161616" stroke-width="1.4" />
<line x1="683.30" y1="96.40" x2="683.30" y2="111.20" stroke="#161616" stroke-width="1.4" />
<line x1="291.50" y1="243.50" x2="291.50" y2="358.60" stroke="#141414" stroke-width="1.25" />
<line x1="287.10" y1="358.60" x2="464.20" y2="358.60" stroke="#141414" stroke-width="1.25" />
<line x1="287.30" y1="243.60" x2="291.50" y2="243.60" stroke="#141414" stroke-width="1.2" />
<text class="t" x="285.00" y="247.30" font-size="10.4" font-weight="bold" text-anchor="end" fill="#111" >500</text>
<line x1="287.30" y1="266.60" x2="291.50" y2="266.60" stroke="#141414" stroke-width="1.2" />
<text class="t" x="285.00" y="270.30" font-size="10.4" font-weight="bold" text-anchor="end" fill="#111" >400</text>
<line x1="287.30" y1="289.60" x2="291.50" y2="289.60" stroke="#141414" stroke-width="1.2" />
<text class="t" x="285.00" y="293.30" font-size="10.4" font-weight="bold" text-anchor="end" fill="#111" >300</text>
<line x1="287.30" y1="312.60" x2="291.50" y2="312.60" stroke="#141414" stroke-width="1.2" />
<text class="t" x="285.00" y="316.30" font-size="10.4" font-weight="bold" text-anchor="end" fill="#111" >200</text>
<line x1="287.30" y1="335.60" x2="291.50" y2="335.60" stroke="#141414" stroke-width="1.2" />
<text class="t" x="285.00" y="339.30" font-size="10.4" font-weight="bold" text-anchor="end" fill="#111" >100</text>
<text class="t" x="285.00" y="362.30" font-size="10.4" font-weight="bold" text-anchor="end" fill="#111" >0</text>
<line x1="312.70" y1="358.60" x2="312.70" y2="363.20" stroke="#141414" stroke-width="1.2" />
<text class="t" x="312.70" y="374.80" font-size="10.4" font-weight="bold" text-anchor="middle" fill="#111" >0.3</text>
<line x1="356.00" y1="358.60" x2="356.00" y2="363.20" stroke="#141414" stroke-width="1.2" />
<text class="t" x="356.00" y="374.80" font-size="10.4" font-weight="bold" text-anchor="middle" fill="#111" >0.35</text>
<line x1="399.20" y1="358.60" x2="399.20" y2="363.20" stroke="#141414" stroke-width="1.2" />
<text class="t" x="399.20" y="374.80" font-size="10.4" font-weight="bold" text-anchor="middle" fill="#111" >0.4</text>
<line x1="442.10" y1="358.60" x2="442.10" y2="363.20" stroke="#141414" stroke-width="1.2" />
<text class="t" x="442.10" y="374.80" font-size="10.4" font-weight="bold" text-anchor="middle" fill="#111" >0.6</text>
<text class="h" transform="translate(377.70,397.00) scale(0.976,1)" font-size="16.0" font-weight="bold" text-anchor="middle" fill="#111">Nozzle diameter (mm)</text>
<text class="h" transform="translate(259.4,299.3) rotate(-90) scale(1.075,1)" font-size="14.8" font-weight="bold" text-anchor="middle" fill="#111">IpA (<tspan font-weight="normal" font-size="13">µ</tspan>A)</text>
<circle cx="318.60" cy="246.60" r="3.0" fill="#F89A3C"/>
<circle cx="307.10" cy="250.30" r="3.0" fill="#F89A3C"/>
<circle cx="307.10" cy="257.60" r="3.0" fill="#F89A3C"/>
<circle cx="318.60" cy="262.90" r="3.0" fill="#F89A3C"/>
<circle cx="307.10" cy="266.20" r="3.0" fill="#F89A3C"/>
<circle cx="318.60" cy="276.20" r="3.0" fill="#F89A3C"/>
<circle cx="307.10" cy="278.30" r="3.0" fill="#F89A3C"/>
<line x1="298.80" y1="262.40" x2="327.20" y2="262.40" stroke="#161616" stroke-width="1.4" />
<line x1="306.00" y1="250.40" x2="320.00" y2="250.40" stroke="#161616" stroke-width="1.4" />
<line x1="306.00" y1="274.50" x2="320.00" y2="274.50" stroke="#161616" stroke-width="1.4" />
<line x1="313.00" y1="250.40" x2="313.00" y2="274.50" stroke="#161616" stroke-width="1.4" />
<circle cx="367.20" cy="247.60" r="3.0" fill="#0EC60E"/>
<circle cx="356.00" cy="251.60" r="3.0" fill="#0EC60E"/>
<circle cx="344.60" cy="263.20" r="3.0" fill="#0EC60E"/>
<circle cx="356.00" cy="262.40" r="3.0" fill="#0EC60E"/>
<circle cx="367.20" cy="266.50" r="3.0" fill="#0EC60E"/>
<circle cx="356.00" cy="271.40" r="3.0" fill="#0EC60E"/>
<circle cx="356.00" cy="285.40" r="3.0" fill="#0EC60E"/>
<line x1="341.80" y1="264.40" x2="370.20" y2="264.40" stroke="#161616" stroke-width="1.4" />
<line x1="349.00" y1="252.10" x2="363.00" y2="252.10" stroke="#161616" stroke-width="1.4" />
<line x1="349.00" y1="276.80" x2="363.00" y2="276.80" stroke="#161616" stroke-width="1.4" />
<line x1="356.00" y1="252.10" x2="356.00" y2="276.80" stroke="#161616" stroke-width="1.4" />
<circle cx="387.60" cy="252.80" r="3.0" fill="#4A9AF6"/>
<circle cx="399.10" cy="253.60" r="3.0" fill="#4A9AF6"/>
<circle cx="387.60" cy="259.50" r="3.0" fill="#4A9AF6"/>
<circle cx="410.60" cy="259.50" r="3.0" fill="#4A9AF6"/>
<circle cx="399.10" cy="266.50" r="3.0" fill="#4A9AF6"/>
<circle cx="410.60" cy="272.10" r="3.0" fill="#4A9AF6"/>
<circle cx="387.60" cy="276.30" r="3.0" fill="#4A9AF6"/>
<line x1="384.90" y1="263.20" x2="413.30" y2="263.20" stroke="#161616" stroke-width="1.4" />
<line x1="392.10" y1="254.30" x2="406.10" y2="254.30" stroke="#161616" stroke-width="1.4" />
<line x1="392.10" y1="271.80" x2="406.10" y2="271.80" stroke="#161616" stroke-width="1.4" />
<line x1="399.10" y1="254.30" x2="399.10" y2="271.80" stroke="#161616" stroke-width="1.4" />
<circle cx="442.10" cy="257.00" r="3.0" fill="#C400C4"/>
<circle cx="430.70" cy="260.20" r="3.0" fill="#C400C4"/>
<circle cx="453.70" cy="262.20" r="3.0" fill="#C400C4"/>
<circle cx="453.70" cy="269.90" r="3.0" fill="#C400C4"/>
<circle cx="442.10" cy="273.90" r="3.0" fill="#C400C4"/>
<circle cx="430.70" cy="279.60" r="3.0" fill="#C400C4"/>
<circle cx="453.70" cy="279.60" r="3.0" fill="#C400C4"/>
<line x1="427.90" y1="269.20" x2="456.30" y2="269.20" stroke="#161616" stroke-width="1.4" />
<line x1="435.10" y1="260.00" x2="449.10" y2="260.00" stroke="#161616" stroke-width="1.4" />
<line x1="435.10" y1="278.10" x2="449.10" y2="278.10" stroke="#161616" stroke-width="1.4" />
<line x1="442.10" y1="260.00" x2="442.10" y2="278.10" stroke="#161616" stroke-width="1.4" />
<line x1="532.50" y1="243.50" x2="532.50" y2="358.70" stroke="#141414" stroke-width="1.25" />
<line x1="528.10" y1="358.70" x2="704.90" y2="358.70" stroke="#141414" stroke-width="1.25" />
<line x1="528.30" y1="243.50" x2="532.50" y2="243.50" stroke="#141414" stroke-width="1.2" />
<text class="t" x="526.00" y="247.20" font-size="10.4" font-weight="bold" text-anchor="end" fill="#111" >250</text>
<line x1="528.30" y1="266.54" x2="532.50" y2="266.54" stroke="#141414" stroke-width="1.2" />
<text class="t" x="526.00" y="270.24" font-size="10.4" font-weight="bold" text-anchor="end" fill="#111" >200</text>
<line x1="528.30" y1="289.58" x2="532.50" y2="289.58" stroke="#141414" stroke-width="1.2" />
<text class="t" x="526.00" y="293.28" font-size="10.4" font-weight="bold" text-anchor="end" fill="#111" >150</text>
<line x1="528.30" y1="312.62" x2="532.50" y2="312.62" stroke="#141414" stroke-width="1.2" />
<text class="t" x="526.00" y="316.32" font-size="10.4" font-weight="bold" text-anchor="end" fill="#111" >100</text>
<line x1="528.30" y1="335.66" x2="532.50" y2="335.66" stroke="#141414" stroke-width="1.2" />
<text class="t" x="526.00" y="339.36" font-size="10.4" font-weight="bold" text-anchor="end" fill="#111" >50</text>
<text class="t" x="526.00" y="362.40" font-size="10.4" font-weight="bold" text-anchor="end" fill="#111" >0</text>
<line x1="554.20" y1="358.70" x2="554.20" y2="363.30" stroke="#141414" stroke-width="1.2" />
<text class="t" x="554.20" y="374.80" font-size="10.4" font-weight="bold" text-anchor="middle" fill="#111" >0.3</text>
<line x1="597.20" y1="358.70" x2="597.20" y2="363.30" stroke="#141414" stroke-width="1.2" />
<text class="t" x="597.20" y="374.80" font-size="10.4" font-weight="bold" text-anchor="middle" fill="#111" >0.35</text>
<line x1="640.40" y1="358.70" x2="640.40" y2="363.30" stroke="#141414" stroke-width="1.2" />
<text class="t" x="640.40" y="374.80" font-size="10.4" font-weight="bold" text-anchor="middle" fill="#111" >0.4</text>
<line x1="683.30" y1="358.70" x2="683.30" y2="363.30" stroke="#141414" stroke-width="1.2" />
<text class="t" x="683.30" y="374.80" font-size="10.4" font-weight="bold" text-anchor="middle" fill="#111" >0.6</text>
<text class="h" transform="translate(618.00,397.00) scale(0.976,1)" font-size="16.0" font-weight="bold" text-anchor="middle" fill="#111">Nozzle diameter (mm)</text>
<text class="h" transform="translate(500.4,299.8) rotate(-90) scale(1.042,1)" font-size="14.8" font-weight="bold" text-anchor="middle" fill="#111">ΔE (mV)</text>
<circle cx="554.10" cy="279.30" r="3.0" fill="#F89A3C"/>
<circle cx="542.60" cy="293.00" r="3.0" fill="#F89A3C"/>
<circle cx="550.40" cy="293.00" r="3.0" fill="#F89A3C"/>
<circle cx="565.60" cy="289.20" r="3.0" fill="#F89A3C"/>
<circle cx="565.60" cy="296.70" r="3.0" fill="#F89A3C"/>
<circle cx="558.10" cy="296.30" r="3.0" fill="#F89A3C"/>
<circle cx="542.60" cy="299.80" r="3.0" fill="#F89A3C"/>
<line x1="539.90" y1="292.60" x2="568.30" y2="292.60" stroke="#161616" stroke-width="1.4" />
<line x1="547.10" y1="286.10" x2="561.10" y2="286.10" stroke="#161616" stroke-width="1.4" />
<line x1="547.10" y1="299.20" x2="561.10" y2="299.20" stroke="#161616" stroke-width="1.4" />
<line x1="554.10" y1="286.10" x2="554.10" y2="299.20" stroke="#161616" stroke-width="1.4" />
<circle cx="585.40" cy="287.10" r="3.0" fill="#0EC60E"/>
<circle cx="592.90" cy="291.10" r="3.0" fill="#0EC60E"/>
<circle cx="601.00" cy="291.10" r="3.0" fill="#0EC60E"/>
<circle cx="608.40" cy="289.20" r="3.0" fill="#0EC60E"/>
<circle cx="589.20" cy="301.00" r="3.0" fill="#0EC60E"/>
<circle cx="596.90" cy="298.80" r="3.0" fill="#0EC60E"/>
<circle cx="604.70" cy="299.80" r="3.0" fill="#0EC60E"/>
<line x1="582.70" y1="293.80" x2="611.10" y2="293.80" stroke="#161616" stroke-width="1.4" />
<line x1="589.90" y1="288.40" x2="603.90" y2="288.40" stroke="#161616" stroke-width="1.4" />
<line x1="589.90" y1="299.60" x2="603.90" y2="299.60" stroke="#161616" stroke-width="1.4" />
<line x1="596.90" y1="288.40" x2="596.90" y2="299.60" stroke="#161616" stroke-width="1.4" />
<circle cx="640.40" cy="288.60" r="3.0" fill="#4A9AF6"/>
<circle cx="651.60" cy="291.10" r="3.0" fill="#4A9AF6"/>
<circle cx="628.60" cy="297.10" r="3.0" fill="#4A9AF6"/>
<circle cx="635.40" cy="294.20" r="3.0" fill="#4A9AF6"/>
<circle cx="646.00" cy="294.80" r="3.0" fill="#4A9AF6"/>
<circle cx="651.60" cy="299.20" r="3.0" fill="#4A9AF6"/>
<circle cx="640.40" cy="295.50" r="3.0" fill="#4A9AF6"/>
<line x1="626.20" y1="294.60" x2="654.60" y2="294.60" stroke="#161616" stroke-width="1.4" />
<line x1="633.40" y1="291.40" x2="647.40" y2="291.40" stroke="#161616" stroke-width="1.4" />
<line x1="633.40" y1="298.30" x2="647.40" y2="298.30" stroke="#161616" stroke-width="1.4" />
<line x1="640.40" y1="291.40" x2="640.40" y2="298.30" stroke="#161616" stroke-width="1.4" />
<circle cx="671.70" cy="282.40" r="3.0" fill="#C400C4"/>
<circle cx="694.80" cy="283.60" r="3.0" fill="#C400C4"/>
<circle cx="677.70" cy="287.40" r="3.0" fill="#C400C4"/>
<circle cx="688.90" cy="287.40" r="3.0" fill="#C400C4"/>
<circle cx="683.30" cy="284.90" r="3.0" fill="#C400C4"/>
<circle cx="680.20" cy="297.30" r="3.0" fill="#C400C4"/>
<circle cx="686.10" cy="296.70" r="3.0" fill="#C400C4"/>
<line x1="669.10" y1="288.40" x2="697.50" y2="288.40" stroke="#161616" stroke-width="1.4" />
<line x1="676.30" y1="282.40" x2="690.30" y2="282.40" stroke="#161616" stroke-width="1.4" />
<line x1="676.30" y1="294.60" x2="690.30" y2="294.60" stroke="#161616" stroke-width="1.4" />
<line x1="683.30" y1="282.40" x2="683.30" y2="294.60" stroke="#161616" stroke-width="1.4" />
</svg>
</body></html>
